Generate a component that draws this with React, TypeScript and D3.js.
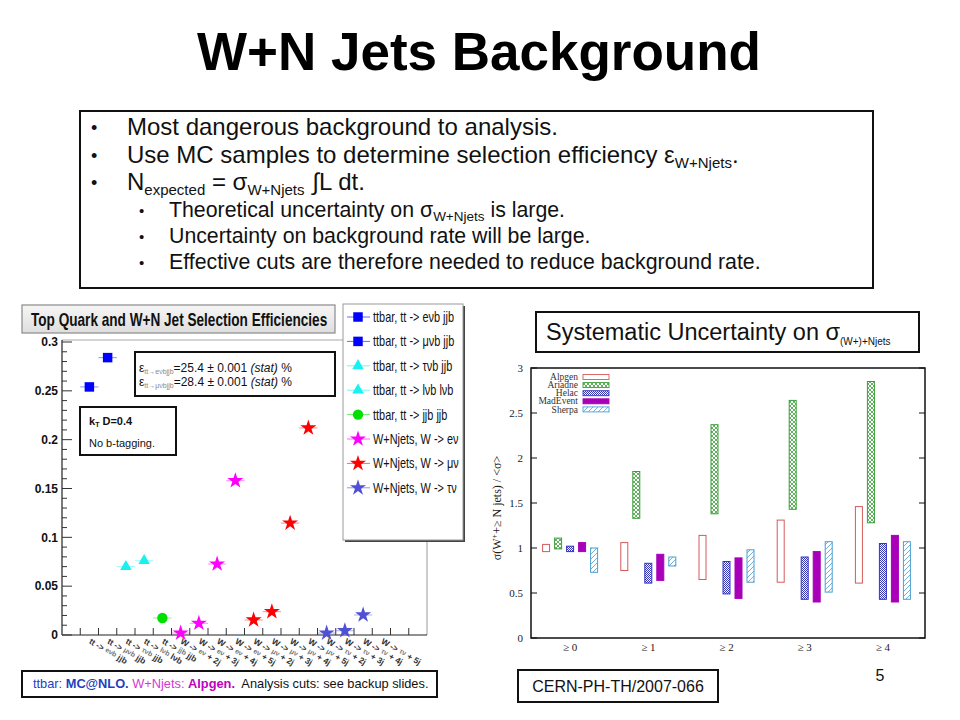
import React from "react";
import * as d3 from "d3";

// ---------- Slide text ----------
const TITLE = "W+N Jets Background";

// ---------- Left chart data ----------
const LEFT_TITLE = "Top Quark and W+N Jet Selection Efficiencies";
const LEFT_Y_TICKS = [0, 0.05, 0.1, 0.15, 0.2, 0.25, 0.3];
const LEFT_Y_LABELS = ["0", "0.05", "0.1", "0.15", "0.2", "0.25", "0.3"];
const N_BINS = 20;
const X_LABEL_PRE = ["tt ->", "tt ->", "tt ->", "tt ->", "tt ->", "W ->", "W ->", "W ->", "W ->", "W ->", "W ->", "W ->", "W ->", "W ->", "W ->", "W ->", "W ->"];
const X_LABEL_MID = ["eνb", "μνb", "τνb", "lνb", "jjb", "eν", "eν", "eν", "eν", "μν", "μν", "μν", "μν", "τν", "τν", "τν", "τν"];
const X_LABEL_POST = ["jjb", "jjb", "jjb", "lνb", "jjb", "+ 2j", "+ 3j", "+ 4j", "+ 5j", "+ 2j", "+ 3j", "+ 4j", "+ 5j", "+ 2j", "+ 3j", "+ 4j", "+ 5j"];
const X_LABEL_BINS = [1, 2, 3, 4, 5, 6, 7, 8, 9, 10, 11, 12, 13, 14, 15, 16, 17];

const SERIES_NAMES = [
  "ttbar, tt -> eνb jjb",
  "ttbar, tt -> μνb jjb",
  "ttbar, tt -> τνb jjb",
  "ttbar, tt -> lνb lνb",
  "ttbar, tt -> jjb jjb",
  "W+Njets, W -> eν",
  "W+Njets, W -> μν",
  "W+Njets, W -> τν",
];
const SERIES_COLORS = ["#0000ff", "#0000ff", "#19f0f0", "#19f0f0", "#00e000", "#ff00ff", "#ff0000", "#5050d4"];
const SERIES_MARKERS = ["square", "square", "triangle", "triangle", "circle", "star", "star", "star"];
const SERIES_BINS = [[1], [2], [3], [4], [5], [6, 7, 8, 9], [10, 11, 12, 13], [14, 15, 16]];
const SERIES_VALUES = [
  [0.254],
  [0.284],
  [0.07],
  [0.076],
  [0.0174],
  [0.002, 0.012, 0.0727, 0.158],
  [0.0154, 0.0239, 0.1146, 0.212],
  [0.002, 0.0044, 0.0205],
];

// ---------- Right chart data ----------
const RIGHT_GROUPS = ["≥ 0", "≥ 1", "≥ 2", "≥ 3", "≥ 4"];
const RIGHT_MODELS = ["Alpgen", "Ariadne", "Helac", "MadEvent", "Sherpa"];
const RIGHT_Y_TICKS = [0, 0.5, 1, 1.5, 2, 2.5, 3];
const RIGHT_Y_LABELS = ["0", "0.5", "1", "1.5", "2", "2.5", "3"];
const ALPGEN_LOW = [0.96, 0.75, 0.65, 0.62, 0.61];
const ALPGEN_HIGH = [1.04, 1.06, 1.14, 1.31, 1.46];
const ARIADNE_LOW = [0.99, 1.33, 1.38, 1.43, 1.28];
const ARIADNE_HIGH = [1.11, 1.85, 2.37, 2.64, 2.85];
const HELAC_LOW = [0.96, 0.61, 0.49, 0.43, 0.43];
const HELAC_HIGH = [1.02, 0.83, 0.85, 0.9, 1.05];
const MADEVENT_LOW = [0.96, 0.64, 0.44, 0.4, 0.4];
const MADEVENT_HIGH = [1.06, 0.93, 0.89, 0.96, 1.14];
const SHERPA_LOW = [0.73, 0.8, 0.62, 0.51, 0.43];
const SHERPA_HIGH = [1.0, 0.9, 0.98, 1.07, 1.07];

const MODEL_LOWS = [ALPGEN_LOW, ARIADNE_LOW, HELAC_LOW, MADEVENT_LOW, SHERPA_LOW];
const MODEL_HIGHS = [ALPGEN_HIGH, ARIADNE_HIGH, HELAC_HIGH, MADEVENT_HIGH, SHERPA_HIGH];
const MODEL_FILLS = ["#ffffff", "url(#pAriadne)", "url(#pHelac)", "#a800b8", "url(#pSherpa)"];
const MODEL_STROKES = ["#d45a5a", "#3a9e3a", "#3434b8", "#a800b8", "#4a9fd2"];

const SANS = "Liberation Sans, Arial, Helvetica, sans-serif";
const SERIF = "Liberation Serif, Times New Roman, serif";

function symbolFor(kind: string) {
  if (kind === "square") return d3.symbol(d3.symbolSquare, 90)();
  if (kind === "triangle") return d3.symbol(d3.symbolTriangle, 58)();
  if (kind === "circle") return d3.symbol(d3.symbolCircle, 85)();
  return d3.symbol(d3.symbolStar, 80)();
}

function LeftChart() {
  const x = d3.scaleLinear().domain([0, N_BINS]).range([62, 427]);
  const y = d3.scaleLinear().domain([0, 0.3]).range([635, 342]);
  const binW = x(1) - x(0);
  const minor = d3.range(0, 0.3001, 0.01);
  return (
    <g>
      {/* title box */}
      <defs>
        <linearGradient id="gTitle" x1="0" x2="0" y1="0" y2="1">
          <stop offset="0" stopColor="#f6f6f6" />
          <stop offset="1" stopColor="#dedede" />
        </linearGradient>
      </defs>
      <rect x={22} y={305} width={313} height={28} fill="url(#gTitle)" stroke="#8a8a8a" strokeWidth={1.2} />
      <text transform="translate(31,326) scale(0.756,1)" fontFamily={SANS} fontWeight="bold" fontSize={18} fill="#111">
        {LEFT_TITLE}
      </text>
      {/* frame */}
      <line x1={x(0)} x2={x(N_BINS)} y1={y(0.3) - 2} y2={y(0.3) - 2} stroke="#aaa" strokeWidth={1.2} />
      <line x1={x(N_BINS)} x2={x(N_BINS)} y1={y(0.3) - 2} y2={y(0)} stroke="#aaa" strokeWidth={1.2} />
      <line x1={x(0)} x2={x(0)} y1={y(0.3) - 2} y2={y(0)} stroke="#222" strokeWidth={1.2} />
      <line x1={x(0)} x2={x(N_BINS)} y1={y(0)} y2={y(0)} stroke="#222" strokeWidth={1.2} />
      {/* y ticks */}
      {minor.map((v, i) => (
        <line key={"mn" + i} x1={x(0)} x2={x(0) + (i % 5 === 0 ? 10 : 5)} y1={y(v)} y2={y(v)} stroke="#333" strokeWidth={1} />
      ))}
      {LEFT_Y_TICKS.map((v, i) => (
        <text key={"yl" + i} x={58} y={y(v)} dy="0.36em" textAnchor="end" fontFamily={SANS} fontWeight="bold" fontSize={12} fill="#111">
          {LEFT_Y_LABELS[i]}
        </text>
      ))}
      {/* x ticks */}
      {d3.range(1, N_BINS).map((b) => (
        <line key={"xt" + b} x1={x(b)} x2={x(b)} y1={y(0)} y2={y(0) - 7} stroke="#333" strokeWidth={1} />
      ))}
      {X_LABEL_BINS.map((b, i) => (
        <text
          key={"xl" + i}
          transform={`translate(${x(b + 0.5) - 1},${y(0) + 8}) rotate(30)`}
          fontFamily={SANS}
          fontWeight="bold"
          fontSize={8.5}
          fill="#333"
          style={{ whiteSpace: "pre" }}
        >
          <tspan>{X_LABEL_PRE[i] + " "}</tspan>
          <tspan fontSize={7} fill="#777" dy={-1}>{X_LABEL_MID[i]}</tspan>
          <tspan dy={1}>{" " + X_LABEL_POST[i]}</tspan>
        </text>
      ))}
      {/* points */}
      {SERIES_NAMES.map((name, s) =>
        SERIES_VALUES[s].map((v, k) => {
          const cx = x(SERIES_BINS[s][k] + 0.5);
          const cy = y(v);
          return (
            <g key={name + k}>
              <line x1={cx - binW / 2} x2={cx + binW / 2} y1={cy} y2={cy} stroke={SERIES_COLORS[s]} strokeOpacity={0.45} strokeWidth={1} />
              <path d={symbolFor(SERIES_MARKERS[s]) as string} transform={`translate(${cx},${cy})`} fill={SERIES_COLORS[s]} />
            </g>
          );
        })
      )}
      {/* legend */}
      <rect x={345} y={306} width={120} height={236} fill="#444" />
      <rect x={343} y={304} width={120} height={236} fill="#fff" stroke="#999" strokeWidth={1} />
      {SERIES_NAMES.map((name, s) => {
        const ly = 317 + s * 24.4;
        return (
          <g key={"lg" + s}>
            <line x1={347} x2={370} y1={ly} y2={ly} stroke={SERIES_COLORS[s]} strokeOpacity={0.6} strokeWidth={1} />
            <path d={symbolFor(SERIES_MARKERS[s]) as string} transform={`translate(358,${ly})`} fill={SERIES_COLORS[s]} />
            <text transform={`translate(373,${ly + 5}) scale(0.78,1)`} fontFamily={SANS} fontSize={14} fill="#111">
              {name}
            </text>
          </g>
        );
      })}
      {/* stat box */}
      <rect x={135} y={352} width={200} height={44} fill="#fff" stroke="#111" strokeWidth={2} />
      <text x={139} y={372} fontFamily={SANS} fontSize={12} fill="#111" style={{ whiteSpace: "pre" }}>
        <tspan>ε</tspan>
        <tspan fontSize={7} fill="#888" dy={2}>{"tt→eνbjjb"}</tspan>
        <tspan dy={-2}>{"=25.4 ± 0.001 "}</tspan>
        <tspan fontStyle="italic">(stat)</tspan>
        <tspan>{" %"}</tspan>
      </text>
      <text x={139} y={386} fontFamily={SANS} fontSize={12} fill="#111" style={{ whiteSpace: "pre" }}>
        <tspan>ε</tspan>
        <tspan fontSize={7} fill="#888" dy={2}>{"tt→μνbjjb"}</tspan>
        <tspan dy={-2}>{"=28.4 ± 0.001 "}</tspan>
        <tspan fontStyle="italic">(stat)</tspan>
        <tspan>{" %"}</tspan>
      </text>
      {/* kT box */}
      <rect x={80} y={407} width={96} height={48} fill="#fff" stroke="#111" strokeWidth={2} />
      <text x={89} y={425} fontFamily={SANS} fontSize={11} fontWeight="bold" fill="#111" style={{ whiteSpace: "pre" }}>
        <tspan>k</tspan>
        <tspan fontSize={7} dy={2}>T</tspan>
        <tspan dy={-2}>{" D=0.4"}</tspan>
      </text>
      <text x={89} y={447} fontFamily={SANS} fontSize={11} fill="#111">No b-tagging.</text>
    </g>
  );
}

function RightChart() {
  const gx = d3.scaleBand().domain(RIGHT_GROUPS).range([531, 922]);
  const mx = d3.scaleBand().domain(RIGHT_MODELS).range([-30, 30]);
  const y = d3.scaleLinear().domain([0, 3]).range([638, 368]);
  const bw = 7;
  const left = 531;
  const right = 925;
  return (
    <g>
      <defs>
        <pattern id="pAriadne" width={4} height={4} patternUnits="userSpaceOnUse">
          <rect width={4} height={4} fill="#fff" />
          <path d="M0,0L4,4M4,0L0,4" stroke="#3a9e3a" strokeWidth={0.8} />
        </pattern>
        <pattern id="pHelac" width={2} height={2} patternUnits="userSpaceOnUse">
          <rect width={2} height={2} fill="#fff" />
          <rect width={1} height={1} fill="#3434b8" />
          <rect x={1} y={1} width={1} height={1} fill="#3434b8" />
        </pattern>
        <pattern id="pSherpa" width={5} height={5} patternUnits="userSpaceOnUse">
          <rect width={5} height={5} fill="#fff" />
          <path d="M0,5L5,0M-1,1L1,-1M4,6L6,4" stroke="#4a9fd2" strokeWidth={0.8} />
        </pattern>
      </defs>
      {/* title box */}
      <rect x={536} y={312} width={383} height={40} fill="#fff" stroke="#111" strokeWidth={2} />
      <text x={546} y={340} fontFamily={SANS} fontSize={23.5} fill="#111" style={{ whiteSpace: "pre" }}>
        <tspan>Systematic Uncertainty on σ</tspan>
        <tspan fontSize={10} dy={5}>{"(W+)+Njets"}</tspan>
      </text>
      {/* frame */}
      <rect x={left} y={y(3)} width={right - left} height={y(0) - y(3)} fill="none" stroke="#111" strokeWidth={1.5} />
      {RIGHT_Y_TICKS.map((v, i) => (
        <g key={"ryt" + i}>
          <line x1={left} x2={left + 6} y1={y(v)} y2={y(v)} stroke="#111" />
          <line x1={right - 6} x2={right} y1={y(v)} y2={y(v)} stroke="#111" />
          <text x={523} y={y(v)} dy="0.35em" textAnchor="end" fontFamily={SERIF} fontSize={11} fill="#222">
            {RIGHT_Y_LABELS[i]}
          </text>
        </g>
      ))}
      {RIGHT_GROUPS.map((g) => (
        <text key={"rgl" + g} x={(gx(g) as number) + gx.bandwidth() / 2} y={651} textAnchor="middle" fontFamily={SERIF} fontSize={11} fill="#222">
          {g}
        </text>
      ))}
      <text transform={`translate(501,508) rotate(-90)`} textAnchor="middle" fontFamily={SERIF} fontSize={12} fill="#222">
        <tspan>σ(W</tspan>
        <tspan fontSize={8} dy={-4}>+</tspan>
        <tspan dy={4}>+≥ N jets) / &lt;σ&gt;</tspan>
      </text>
      {/* bars */}
      {RIGHT_MODELS.map((m, mi) =>
        RIGHT_GROUPS.map((g, gi) => {
          const cx = (gx(g) as number) + gx.bandwidth() / 2 + (mx(m) as number) + mx.bandwidth() / 2;
          const top = y(MODEL_HIGHS[mi][gi]);
          const bot = y(MODEL_LOWS[mi][gi]);
          return (
            <rect key={m + g} x={cx - bw / 2} y={top} width={bw} height={bot - top} fill={MODEL_FILLS[mi]} stroke={MODEL_STROKES[mi]} strokeWidth={1} />
          );
        })
      )}
      {/* legend */}
      {RIGHT_MODELS.map((m, mi) => {
        const ly = 377 + mi * 8.1;
        return (
          <g key={"rl" + m}>
            <text x={578} y={ly} dy="0.33em" textAnchor="end" fontFamily={SERIF} fontSize={9.5} fill="#333">
              {m}
            </text>
            <rect x={583} y={ly - 2.5} width={26} height={5} fill={MODEL_FILLS[mi]} stroke={MODEL_STROKES[mi]} strokeWidth={0.9} />
          </g>
        );
      })}
    </g>
  );
}

function TextBox() {
  return (
    <g fontFamily={SANS} fill="#111" style={{ whiteSpace: "pre" }}>
      <rect x={80} y={111} width={793} height={177} fill="#fff" stroke="#111" strokeWidth={2} />
      {[135, 163, 190].map((yy) => (
        <text key={"b" + yy} x={91} y={yy - 1} fontSize={18}>•</text>
      ))}
      {[217, 243, 269].map((yy) => (
        <text key={"s" + yy} x={139} y={yy - 1} fontSize={15}>•</text>
      ))}
      <text x={127} y={135} fontSize={24}>Most dangerous background to analysis.</text>
      <text x={127} y={163} fontSize={24}>
        <tspan>Use MC samples to determine selection efficiency ε</tspan>
        <tspan fontSize={15} dy={5}>W+Njets</tspan>
        <tspan dy={-5}>.</tspan>
      </text>
      <text x={127} y={190} fontSize={24}>
        <tspan>N</tspan>
        <tspan fontSize={15} dy={5}>expected</tspan>
        <tspan dy={-5}>{" = σ"}</tspan>
        <tspan fontSize={15} dy={5}>W+Njets</tspan>
        <tspan dy={-5} dx={8}>{"∫L dt."}</tspan>
      </text>
      <text x={169} y={217} fontSize={21.3}>
        <tspan>Theoretical uncertainty on σ</tspan>
        <tspan fontSize={13.5} dy={4}>W+Njets</tspan>
        <tspan dy={-4}>{" is large."}</tspan>
      </text>
      <text x={169} y={243} fontSize={21.3}>Uncertainty on background rate will be large.</text>
      <text x={169} y={269} fontSize={21.3}>Effective cuts are therefore needed to reduce background rate.</text>
    </g>
  );
}

export default function App() {
  return (
    <svg
      width={960}
      height={720}
      viewBox="0 0 960 720"
      style={{ position: "absolute", left: 0, top: 0, background: "#fff" }}
    >
      <rect width={960} height={720} fill="#fff" />
      <text x={479} y={70} textAnchor="middle" fontFamily={SANS} fontWeight="bold" fontSize={53} fill="#000">
        {TITLE}
      </text>
      <TextBox />
      <LeftChart />
      <RightChart />
      {/* bottom notes */}
      <rect x={22} y={671} width={415} height={26} fill="#fff" stroke="#111" strokeWidth={2} />
      <text x={33} y={688} fontFamily={SANS} fontSize={12.8} style={{ whiteSpace: "pre" }}>
        <tspan fill="#1f3fbf">{"ttbar: "}</tspan>
        <tspan fill="#1f3fbf" fontWeight="bold">{"MC@NLO."}</tspan>
        <tspan fill="#d23ad2">{" W+Njets: "}</tspan>
        <tspan fill="#c000c0" fontWeight="bold">{"Alpgen."}</tspan>
        <tspan fill="#111">{"  Analysis cuts: see backup slides."}</tspan>
      </text>
      <rect x={518} y={670} width={200} height={32} fill="#fff" stroke="#111" strokeWidth={2} />
      <text x={618} y={692} textAnchor="middle" fontFamily={SANS} fontSize={16} fill="#111">
        CERN-PH-TH/2007-066
      </text>
      <text x={880} y={681} textAnchor="middle" fontFamily={SANS} fontSize={16} fill="#111">
        5
      </text>
    </svg>
  );
}
